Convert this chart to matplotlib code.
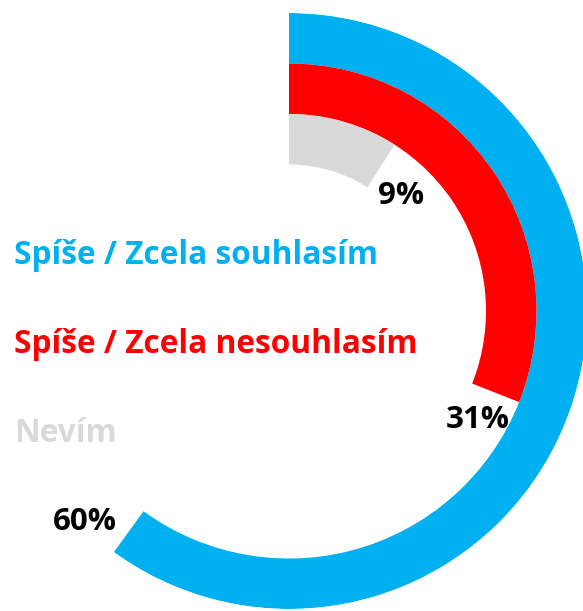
import numpy as np
import matplotlib.pyplot as plt

categories = ['Spíše / Zcela souhlasím', 'Spíše / Zcela nesouhlasím', 'Nevím']
values = [60, 31, 9]
labels = ['60%', '31%', '9%']
colors = ['#00B0F0', '#FF0000', '#D9D9D9']

W, H = 583, 611
fig = plt.figure(figsize=(W / 100, H / 100), dpi=100)

# polar axes placed in pixel units: centre (289, 311), outer radius 298
cx, cy, R = 289, 311, 298
ax = fig.add_axes([(cx - R) / W, 1 - (cy + R) / H, 2 * R / W, 2 * R / H], projection='polar')
ax.set_theta_zero_location('N')
ax.set_theta_direction(-1)
ax.set_ylim(0, R)
ax.set_axis_off()

band = 50.5
bottoms = [R - band, R - 2 * band, R - 3 * band]
for v, b, c in zip(values, bottoms, colors):
    ax.bar(0, band, width=v / 100 * 2 * np.pi, bottom=b, align='edge', color=c, linewidth=0)

font = 'Open Sans'
label_y = [255, 344, 434]
for name, y, c in zip(categories, label_y, colors):
    fig.text(14 / W, 1 - y / H, name, color=c, fontsize=22.8, fontweight='bold',
             family=font, ha='left', va='center')

pct_pos = [(85, 522), (478, 420), (401, 196)]
for lab, (x, y) in zip(labels, pct_pos):
    fig.text(x / W, 1 - y / H, lab, color='black', fontsize=22.5, fontweight='bold',
             family=font, ha='center', va='center')

fig.savefig('out.png', dpi=100)
